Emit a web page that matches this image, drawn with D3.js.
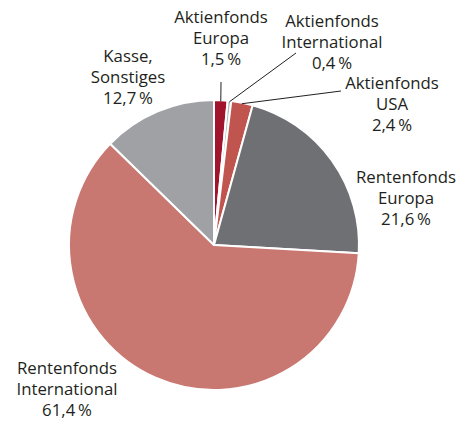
<!DOCTYPE html>
<html><head><meta charset="utf-8">
<script src="https://cdn.jsdelivr.net/npm/d3@7"></script>
<style>html,body{margin:0;padding:0;background:#fff;}svg{display:block;}</style>
</head><body>
<svg id="c" width="459" height="421"></svg>
<script>
const categories = ["Aktienfonds Europa","Aktienfonds International","Aktienfonds USA","Rentenfonds Europa","Rentenfonds International","Kasse, Sonstiges"];
const values = [1.5, 0.4, 2.4, 21.6, 61.4, 12.7];
const colors = ["#a0152d","#b9b9bc","#c0544f","#6f7074","#c87771","#a0a1a5"];
const labelLines = [
  ["Aktienfonds","Europa","1,5\u2009%"],
  ["Aktienfonds","International","0,4\u2009%"],
  ["Aktienfonds","USA","2,4\u2009%"],
  ["Rentenfonds","Europa","21,6\u2009%"],
  ["Rentenfonds","International","61,4\u2009%"],
  ["Kasse,","Sonstiges","12,7\u2009%"]
];
// label anchor: centre x and first baseline y
const labelPos = [[221,23],[332,27],[392,89],[406,183],[67,374],[128,62]];
// leader lines: outer end point (inner end is computed on the arc), null = none
const leaderEnds = [[221,82],[296,53],[341,91],null,null,null];

const svg = d3.select("#c");
const cx = 214, cy = 245, R = 145;
const g = svg.append("g").attr("transform",`translate(${cx},${cy})`);
const pie = d3.pie().sort(null).value(d=>d)(values);
const arc = d3.arc().innerRadius(0).outerRadius(R);
g.selectAll("path").data(pie).join("path")
  .attr("d",arc).attr("fill",(d,i)=>colors[i])
  .attr("stroke","#fff").attr("stroke-width",2).attr("stroke-linejoin","round");

pie.forEach((d,i)=>{
  const e = leaderEnds[i]; if(!e) return;
  const a = (d.startAngle+d.endAngle)/2;
  const x0 = cx + (R-1)*Math.sin(a), y0 = cy - (R-1)*Math.cos(a);
  svg.append("line").attr("x1",x0).attr("y1",y0).attr("x2",e[0]).attr("y2",e[1])
    .attr("stroke","#231f20").attr("stroke-width",1);
});

labelLines.forEach((lines,i)=>{
  const t = svg.append("text").attr("text-anchor","middle")
    .attr("font-family","'Open Sans', sans-serif").attr("font-size",16.8).attr("fill","#231f20");
  lines.forEach((s,j)=>{
    t.append("tspan").attr("x",labelPos[i][0]).attr("y",labelPos[i][1]+j*20.8).text(s);
  });
});
</script>
</body></html>
